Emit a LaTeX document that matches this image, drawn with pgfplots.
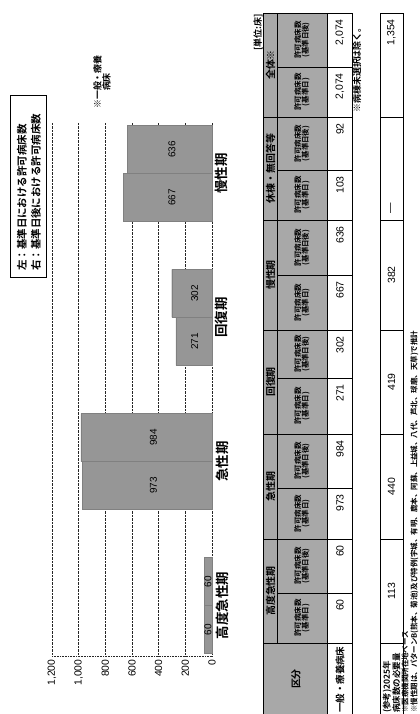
\documentclass[border=0pt]{standalone}
\usepackage{fontspec}
\setmainfont{Liberation Sans}
\newfontfamily\jp{Noto Sans CJK JP}[BoldFont={* Bold}]
\usepackage{pgfplots}
\pgfplotsset{compat=1.18}
\definecolor{barg}{RGB}{150,150,150}
\definecolor{hdrg}{RGB}{168,168,168}
\newcommand{\fs}[1]{\fontsize{#1}{#1}\selectfont}
\begin{document}
\begin{tikzpicture}
\useasboundingbox (0,0) rectangle (420bp,-714bp);
\begin{axis}[
  at={(52bp,-656bp)}, anchor=south west,
  width=160bp, height=533bp, scale only axis,
  xmin=0, xmax=1200, x dir=reverse,
  ymin=-0.35, ymax=3.35,
  xtick={0,200,400,600,800,1000,1200},
  xticklabels={0,200,400,600,800,{1,000},{1,200}},
  ytick={0,1,2,3},
  yticklabels={高度急性期,急性期,回復期,慢性期},
  yticklabel pos=right,
  xticklabel style={rotate=90, anchor=east, font=\fs{10.4}},
  yticklabel style={rotate=90, anchor=north, font=\jp\bfseries\fs{13.5}},
  axis line style={draw=none},
  major tick length=0pt,
  xmajorgrids, grid style={densely dotted, black!85, line width=0.6pt},
  bar width=0.333,
  clip=false,
]
\addplot[xbar, bar shift=-0.1667, fill=barg, draw=black!50] coordinates {(60,0) (973,1) (271,2) (667,3)};
\addplot[xbar, bar shift=0.1667, fill=barg, draw=black!50] coordinates {(60,0) (984,1) (302,2) (636,3)};
\addplot[only marks, mark=none, nodes near coords, point meta=explicit symbolic,
  nodes near coords style={rotate=90, anchor=center, font=\fs{10}}]
  coordinates {(30,-0.1667)[60] (440,0.8333)[973] (130,1.8333)[271] (300,2.8333)[667]
               (30,0.1667)[60] (440,1.1667)[984] (130,2.1667)[302] (300,3.1667)[636]};
\draw[densely dotted, black!85, line width=0.6pt] (rel axis cs:0,0) -- (rel axis cs:1,0);
\end{axis}
\begin{scope}[x=1bp,y=-1bp]
% legend box
\draw[line width=0.8pt] (10,95) rectangle (46,277);
\node[rotate=90, anchor=west, inner sep=0pt, font=\jp\bfseries\fs{10.5}] at (22,271) {左：基準日における許可病床数};
\node[rotate=90, anchor=west, inner sep=0pt, font=\jp\bfseries\fs{10.5}] at (36,271) {右：基準日後における許可病床数};
\node[rotate=90, align=center, inner sep=0pt, font=\jp\bfseries\fs{9}] at (102,82) {※一般・療養\\病床};
\node[rotate=90, anchor=east, inner sep=0pt, font=\jp\bfseries\fs{9}] at (258,14) {[単位:床]};
% main table
\fill[hdrg] (263,13) rectangle (327,716);
\fill[white] (327,13) rectangle (352,716);
\draw[line width=0.6pt] (277,13) -- (277,643);
\draw[line width=0.6pt] (327,13) -- (327,716);
\foreach \y in {117,220,330,434,539,643} {\draw[line width=0.6pt] (263,\y) -- (352,\y);}
\foreach \y in {67,170,275,378,488,593} {\draw[line width=0.6pt] (277,\y) -- (352,\y);}
\draw[line width=0.9pt] (263,13) rectangle (352,716);
% header groups
\foreach \c/\t in {65/全体※,168.5/休棟・無回答等,275/慢性期,382/回復期,486.5/急性期,591/高度急性期}
  {\node[rotate=90, inner sep=0pt, font=\jp\bfseries\fs{10}] at (270.5,\c) {\t};}
\node[rotate=90, inner sep=0pt, font=\jp\bfseries\fs{10}] at (296,679) {区分};
% sub headers
\foreach \c in {40,143.5,247.5,354,461,566}
  {\node[rotate=90, align=center, inner sep=0pt, font=\jp\bfseries\fs{7.5}] at (302,\c) {許可病床数\\(基準日後)};}
\foreach \c in {92,195,302.5,406,513.5,618}
  {\node[rotate=90, align=center, inner sep=0pt, font=\jp\bfseries\fs{7.5}] at (302,\c) {許可病床数\\(基準日)};}
% data
\foreach \t/\v in {13/{2,074},67/{2,074},117/92,170/103,220/636,275/667,330/302,378/271,434/984,488/973,539/60,593/60}
  {\node[rotate=90, anchor=east, inner sep=0pt, font=\fs{10.5}] at (340,\t+6) {\v};}
\node[rotate=90, anchor=west, inner sep=0pt, font=\jp\bfseries\fs{9.5}] at (340,713) {一般・療養病床};
\node[rotate=90, anchor=west, inner sep=0pt, font=\jp\bfseries\fs{9}] at (357,113) {※病棟未選択は除く。};
% second table
\fill[white] (380,13) rectangle (403,716);
\foreach \y in {117,220,330,434,539,643} {\draw[line width=0.6pt] (380,\y) -- (403,\y);}
\draw[line width=0.9pt] (380,13) rectangle (403,716);
\node[rotate=90, anchor=east, inner sep=0pt, font=\fs{10.5}] at (391.5,19) {1,354};
\node[rotate=90, inner sep=0pt, font=\fs{10.5}] at (391.5,208) {—};
\foreach \c/\v in {275/382,382/419,486.5/440,591/113}
  {\node[rotate=90, inner sep=0pt, font=\fs{10.5}] at (391.5,\c) {\v};}
\node[rotate=90, anchor=west, align=left, inner sep=0pt, font=\jp\bfseries\fs{8.5}] at (391.5,713) {(参考)2025年\\病床数の必要量};
% footnotes
\node[rotate=90, anchor=west, inner sep=0pt, font=\jp\bfseries\fs{7.5}] at (405,713) {※医療機関所在地ベース};
\node[rotate=90, anchor=west, inner sep=0pt, font=\jp\bfseries\fs{7.5}] at (414.5,713) {※慢性期は、パターンB(熊本、菊池)及び特例(宇城、有明、鹿本、阿蘇、上益城、八代、芦北、球磨、天草)で推計};
\end{scope}
\end{tikzpicture}
\end{document}
